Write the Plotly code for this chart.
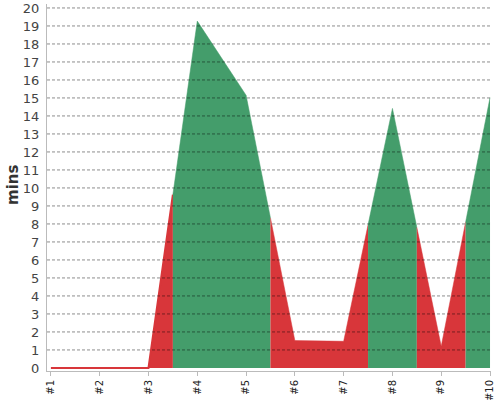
import plotly.graph_objects as go

categories = ["#1", "#2", "#3", "#4", "#5", "#6", "#7", "#8", "#9", "#10"]
values = [0, 0, 0, 19.27, 15.15, 1.52, 1.48, 14.42, 1.2, 15.02]
status = ["bad", "bad", "bad", "good", "good", "bad", "bad", "good", "bad", "good"]
y_ticks = list(range(0, 21))

colors = {"good": "#449d6b", "bad": "#d8363a"}

n = len(values)


def interp(x):
    i = int(x)
    if i >= n - 1:
        return values[-1]
    f = x - i
    return values[i] * (1 - f) + values[i + 1] * f


# Build colour segments: each point owns the half-interval around it
segments = []
start = 0
for i in range(1, n + 1):
    if i == n or status[i] != status[start]:
        segments.append((start, i - 1, status[start]))
        start = i

fig = go.Figure()
for s, e, st in segments:
    x0 = max(s - 0.5, 0)
    x1 = min(e + 0.5, n - 1)
    xs = sorted(set([x0] + list(range(s, e + 1)) + [x1]))
    xs = [x for x in xs if x0 <= x <= x1]
    ys = [interp(x) for x in xs]
    fig.add_trace(go.Scatter(
        x=xs, y=ys, mode="lines", fill="tozeroy",
        fillcolor=colors[st],
        line=dict(color=colors[st], width=2 if st == "bad" and s == 0 else 0.5),
        hoverinfo="skip", showlegend=False,
    ))

# dashed grid drawn above the areas
for t in y_ticks[1:]:
    fig.add_shape(type="line", xref="paper", x0=0, x1=1, yref="y", y0=t, y1=t,
                  line=dict(color="rgba(0,0,0,0.45)", width=1, dash="3px,2px"),
                  layer="above")

fig.update_layout(
    width=500, height=400,
    margin=dict(l=47, r=9, t=4, b=29, autoexpand=False),
    paper_bgcolor="white", plot_bgcolor="white",
    font=dict(family="DejaVu Sans", color="#444"),
    showlegend=False,
    annotations=[dict(text="<b>mins</b>", textangle=-90, xref="paper", yref="paper",
                      x=(13 - 47) / 444, y=0.507, xanchor="center", yanchor="middle",
                      showarrow=False, font=dict(size=15, color="#333"))],
)
fig.update_xaxes(
    range=[-0.08, 9.02], tickvals=list(range(n)), ticktext=categories,
    tickangle=-90, tickfont=dict(size=10, color="#222"),
    showgrid=False, zeroline=False, showline=True, linecolor="#bbb", linewidth=1,
    ticks="outside", ticklen=4, tickcolor="#bbb",
)
fig.update_yaxes(
    range=[-0.17, 20.22], tickvals=y_ticks,
    tickfont=dict(size=13, color="#444"),
    showgrid=False, zeroline=False, showline=True, linecolor="#bbb", linewidth=1,
    ticks="outside", ticklen=4, tickcolor="rgba(0,0,0,0)",
)

fig.write_html("out.html", config={"displayModeBar": False},
               post_script="document.body.style.margin='0px';document.body.style.padding='0px';")
